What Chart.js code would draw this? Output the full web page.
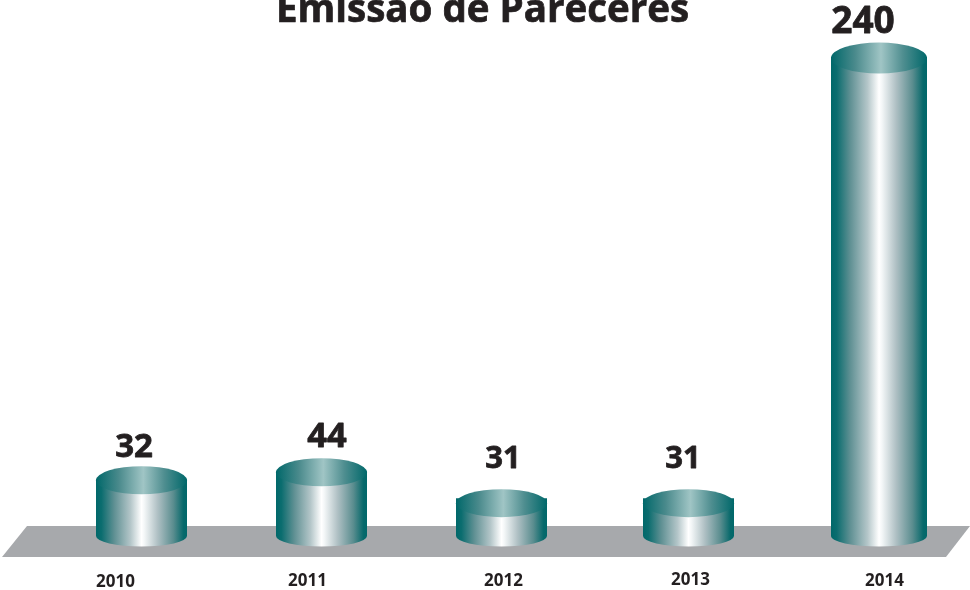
<!DOCTYPE html>
<html><head><meta charset="utf-8">
<style>html,body{margin:0;padding:0;background:#fff}#w{width:970px;height:590px;position:relative;overflow:hidden}</style>
<script src="https://cdn.jsdelivr.net/npm/chart.js@4"></script>
</head><body><div id="w"><canvas id="c" width="970" height="590"></canvas></div>
<script>
const titleText = "Emissão de Pareceres";
const categories = ["2010","2011","2012","2013","2014"];
// printed figures above each cylinder
const valueLabels = [32,44,31,31,240];
// drawn cylinder heights (the artwork is not to scale with its printed figures)
const drawnHeights = [28,32,16.5,16.5,240];

const FONT = '"Open Sans"';
const INK = "#231f20";
const style = {
  barNudge:[0,0,0,7,17.5],
  barWidth:[91,91,91,91,96],
  topRy:[14,14,14,14,15.5],
  shoulder:[1,1,5,5,1],
  tickNudge:[-26,-14,2,9,23],
  tickY:[586.5,586,585.5,585,585.5],
  valueX:[134,327,503,683,863],
  valueY:[457,447,468,468,33],
  valueSize:[33,34.5,31,31,37],
};
function sideGrad(ctx,l,w){
  const g=ctx.createLinearGradient(l,0,l+w,0);
  g.addColorStop(0,"#00686a");g.addColorStop(.06,"#0b6d6f");g.addColorStop(.2,"#5f9093");
  g.addColorStop(.38,"#b4c6c9");g.addColorStop(.5,"#ffffff");g.addColorStop(.53,"#f4f7f8");
  g.addColorStop(.68,"#aebfc3");g.addColorStop(.85,"#5a8d8f");g.addColorStop(.96,"#07696b");g.addColorStop(1,"#00686a");
  return g;
}
function topGrad(ctx,l,w){
  const g=ctx.createLinearGradient(l,0,l+w,0);
  g.addColorStop(0,"#00686a");g.addColorStop(.25,"#4a8a8c");g.addColorStop(.52,"#a0c5c5");
  g.addColorStop(.75,"#4f8e90");g.addColorStop(1,"#00686a");
  return g;
}
function heavyText(c,t,x,y,sw){
  c.lineWidth=sw;c.strokeStyle=INK;c.lineJoin="round";
  c.strokeText(t,x,y);c.fillText(t,x,y);
}
const cylinders={
  id:"cylinders",
  beforeDatasetsDraw(chart){
    const c=chart.ctx;
    c.save();c.fillStyle="#a7a9ac";c.beginPath();
    c.moveTo(27,526);c.lineTo(970,526);c.lineTo(946,557);c.lineTo(2,557);c.closePath();c.fill();c.restore();
  },
  afterDatasetsDraw(chart){
    const c=chart.ctx, meta=chart.getDatasetMeta(0);
    c.save();
    meta.data.forEach((el,i)=>{
      const w=style.barWidth[i], cx=el.x+style.barNudge[i], l=cx-w/2, y=el.y, b=el.base, ry=style.topRy[i], by=10.5;
      c.fillStyle=sideGrad(c,l,w);
      c.beginPath();c.moveTo(l,y-style.shoulder[i]);c.lineTo(l+w,y-style.shoulder[i]);c.lineTo(l+w,b);
      c.ellipse(cx,b,w/2,by,0,0,Math.PI);c.closePath();c.fill();
      c.fillStyle=topGrad(c,l,w);
      c.beginPath();c.ellipse(cx,y,w/2,ry,0,0,Math.PI*2);c.fill();
    });
    c.restore();
  },
  afterDraw(chart){
    const c=chart.ctx, sx=chart.scales.x;
    c.save();c.fillStyle=INK;c.textAlign="center";c.textBaseline="alphabetic";
    c.font="bold 38.5px "+FONT;heavyText(c,titleText,482.5,22,.7);
    valueLabels.forEach((v,i)=>{
      c.font="bold "+style.valueSize[i]+"px "+FONT;
      heavyText(c,String(v),style.valueX[i],style.valueY[i],.8);
    });
    c.font="bold 17px "+FONT;
    categories.forEach((t,i)=>c.fillText(t,sx.getPixelForValue(i)+style.tickNudge[i],style.tickY[i]));
    c.restore();
  }
};
new Chart(document.getElementById("c"),{
  type:"bar",
  data:{labels:categories,datasets:[{data:drawnHeights,backgroundColor:"rgba(0,0,0,0)",borderWidth:0,barThickness:90}]},
  options:{
    responsive:false,animation:false,
    layout:{padding:{left:51.5,right:18.5,top:58,bottom:54}},
    plugins:{legend:{display:false},title:{display:false},tooltip:{enabled:false}},
    scales:{
      x:{display:false,grid:{display:false}},
      y:{display:false,min:0,max:240,grid:{display:false}}
    }
  },
  plugins:[cylinders]
});
</script></body></html>
